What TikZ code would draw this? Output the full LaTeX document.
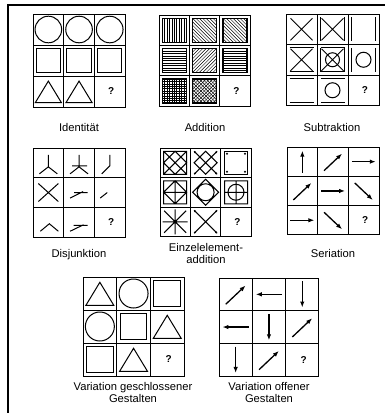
\documentclass[tikz,border=0pt]{standalone}
\usepackage{fontspec}
\setmainfont{Liberation Sans}
\usetikzlibrary{arrows.meta}

\begin{document}
\begin{tikzpicture}[x=1pt,y=-1pt,
  cell/.style={draw,line width=0.9pt,inner sep=0pt,outer sep=0pt},
  figline/.style={line width=1pt},
  hatch/.style={line width=0.45pt},
  frame/.style={line width=1.1pt},
  arrw/.style={line width=1.3pt,-{Latex[length=6pt,width=4.5pt]}},
  quest/.style={font=\fontsize{10}{11}\selectfont\bfseries,inner sep=0pt},
  caption/.style={font=\fontsize{11.2}{12}\selectfont,align=center,inner sep=0pt},
  ring/.pic={\draw[figline] (0,0) circle[radius=#1];},
  box/.pic={\draw[figline] (-#1,-#1) rectangle (#1,#1);},
  plate/.pic={\draw[line width=1.2pt] (-#1,-#1) rectangle (#1,#1);},
  tri/.pic={\draw[figline] (-#1,0.85*#1) -- (0,-0.8*#1) -- (#1,0.85*#1) -- cycle;},
  aup/.pic={\draw[arrw] (0,11) -- (0,-11);},
  adn/.pic={\draw[arrw] (0,-12) -- (0,12);},
  art/.pic={\draw[arrw] (-12,0) -- (12,0);},
  alf/.pic={\draw[arrw] (12,0) -- (-12,0);},
  ane/.pic={\draw[arrw] (-9,9) -- (9,-8);},
  ase/.pic={\draw[arrw] (-9,-8) -- (9,9);}
]
  \useasboundingbox (0,0) rectangle (385,413);
  \draw[frame] (8,413) -- (8,5) -- (385,5);

  % Matrices: name / left / top / cell width / cell height
  \foreach \g/\gx/\gy/\gw/\gh in {id/33/14/30.7/31, ad/159/15/30.4/30.4,
      sb/286/14/31/30.5, dj/33/148/30.7/29.7, ez/160/148/30.4/29.5,
      sr/287/147/30.7/29.3, vg/83/277/33.7/33, vo/219/278/33.3/32.7}{
    \foreach \r in {1,2,3}{
      \foreach \c in {1,2,3}{
        \node[cell,minimum width=\gw,minimum height=\gh] (\g\r\c)
          at ({\gx+(\c-0.5)*\gw},{\gy+(\r-0.5)*\gh}) {};
      }
    }
    \node[quest] (q\g) at ([xshift=1.5pt]\g33) {?};
  }

  % Identitaet
  \foreach \c in {11,12,13} \pic at (id\c) {ring=13.3};
  \foreach \c in {21,22,23} \pic at (id\c) {box=12.2};
  \foreach \c in {31,32} \pic at (id\c) {tri=13};
  \node[caption] (capid) at (79,127) {Identität};

  % Addition
  \begin{scope}[shift={(ad11)}]
    \clip (-12,-12) rectangle (12,12);
    \foreach \t in {-12,-9.6,...,12} \draw[hatch] (\t,-12) -- (\t,12);
  \end{scope}
  \foreach \c in {12,13}{
    \begin{scope}[shift={(ad\c)}]
      \clip (-12,-12) rectangle (12,12);
      \foreach \t in {-24,-20.6,...,24} \draw[hatch] (\t-12,-12) -- (\t+12,12);
    \end{scope}
  }
  \foreach \c in {21,23}{
    \begin{scope}[shift={(ad\c)}]
      \clip (-12,-12) rectangle (12,12);
      \foreach \t in {-12,-9.6,...,12} \draw[hatch] (-12,\t) -- (12,\t);
    \end{scope}
  }
  \begin{scope}[shift={(ad22)}]
    \clip (-12,-12) rectangle (12,12);
    \foreach \t in {-24,-20.6,...,24} \draw[hatch] (\t-12,12) -- (\t+12,-12);
  \end{scope}
  \begin{scope}[shift={(ad31)}]
    \clip (-12,-12) rectangle (12,12);
    \foreach \t in {-12,-9.6,...,12} \draw[hatch] (\t,-12) -- (\t,12) (-12,\t) -- (12,\t);
  \end{scope}
  \begin{scope}[shift={(ad32)}]
    \clip (-12,-12) rectangle (12,12);
    \foreach \t in {-24,-20.6,...,24}
      \draw[hatch] (\t-12,-12) -- (\t+12,12) (\t-12,12) -- (\t+12,-12);
  \end{scope}
  \foreach \c in {11,12,13,21,22,23,31,32} \pic at (ad\c) {plate=12};
  \node[caption] (capad) at (205,127) {Addition};

  % Subtraktion
  \foreach \c in {11,12,21,22}{
    \begin{scope}[shift={(sb\c)}]
      \draw[figline] (-11,-11) -- (11,11) (-11,11) -- (11,-11);
    \end{scope}
  }
  \foreach \c in {12,13,22,23}{
    \begin{scope}[shift={(sb\c)}]
      \draw[figline] (-12,-12) -- (-12,12) (12,-12) -- (12,12);
    \end{scope}
  }
  \foreach \c in {21,22,31,32}{
    \begin{scope}[shift={(sb\c)}]
      \draw[figline] (-12,-12) -- (12,-12) (-12,12) -- (12,12);
    \end{scope}
  }
  \pic at (sb22) {ring=7};
  \pic at (sb23) {ring=7.5};
  \pic at (sb32) {ring=7.5};
  \node[caption] (capsb) at (332,127) {Subtraktion};

  % Disjunktion
  \begin{scope}[shift={(dj11)}]
    \draw[figline] (0,-8) -- (0,4) (-9,11) -- (0,4) -- (9,11);
  \end{scope}
  \begin{scope}[shift={(dj12)}]
    \draw[figline] (0,-8) -- (0,4) (-9,11) -- (0,4) -- (9,11) (-7,3) -- (8,3);
  \end{scope}
  \begin{scope}[shift={(dj13)}]
    \draw[figline] (0,-8) -- (0,3) -- (-8,11);
  \end{scope}
  \begin{scope}[shift={(dj21)}]
    \draw[figline] (-10,-9) -- (10,9) (-10,9) -- (10,-9);
  \end{scope}
  \begin{scope}[shift={(dj22)}]
    \draw[figline] (-5,0) -- (8.5,0) (-9,5.5) -- (4,-1);
  \end{scope}
  \begin{scope}[shift={(dj23)}]
    \draw[figline] (-9.5,5.5) -- (-2.5,0);
  \end{scope}
  \begin{scope}[shift={(dj31)}]
    \draw[figline] (-8,9) -- (1,1.5) -- (10,9);
  \end{scope}
  \begin{scope}[shift={(dj32)}]
    \draw[figline] (-5.5,3) -- (8.5,3) (-9,9) -- (4.5,2.5);
  \end{scope}
  \node[caption] (capdj) at (79,255) {Disjunktion};

  % Einzelelementaddition
  \begin{scope}[shift={(ez11)}]
    \draw[figline] (-11.5,-11.5) rectangle (11.5,11.5)
      (-11.5,-11.5) -- (11.5,11.5) (-11.5,11.5) -- (11.5,-11.5)
      (-11.5,0) -- (0,-11.5) -- (11.5,0) -- (0,11.5) -- cycle;
  \end{scope}
  \begin{scope}[shift={(ez12)}]
    \draw[figline] (-11.5,-11.5) -- (11.5,11.5) (-11.5,11.5) -- (11.5,-11.5)
      (-11.5,0) -- (0,-11.5) -- (11.5,0) -- (0,11.5) -- cycle;
    \foreach \p in {(-10.5,-10.5),(10.5,-10.5),(-10.5,10.5),(10.5,10.5)}
      \fill \p circle[radius=1.1];
  \end{scope}
  \begin{scope}[shift={(ez13)}]
    \draw[figline] (-11.5,-11.5) rectangle (11.5,11.5);
    \foreach \p in {(-9,-9),(9,-9),(-9,9),(9,9)}
      \fill \p circle[radius=1.1];
  \end{scope}
  \begin{scope}[shift={(ez21)}]
    \draw[figline] (-11.5,-11.5) rectangle (11.5,11.5)
      (-11.5,0) -- (0,-11.5) -- (11.5,0) -- (0,11.5) -- cycle
      (-11.5,0) -- (11.5,0) (0,-11.5) -- (0,11.5);
  \end{scope}
  \begin{scope}[shift={(ez22)}]
    \draw[figline] (-13,0) -- (0,-13) -- (13,0) -- (0,13) -- cycle
      (0,0) circle[radius=8.5];
  \end{scope}
  \begin{scope}[shift={(ez23)}]
    \draw[figline] (-11.5,-11.5) rectangle (11.5,11.5)
      (0,0) circle[radius=8]
      (-11.5,0) -- (11.5,0) (0,-11.5) -- (0,11.5);
  \end{scope}
  \begin{scope}[shift={(ez31)}]
    \draw[figline] (-11,-11) -- (11,11) (-11,11) -- (11,-11)
      (-12.5,0) -- (12.5,0) (0,-12.5) -- (0,12.5);
    \fill (0,0) circle[radius=1.6];
  \end{scope}
  \begin{scope}[shift={(ez32)}]
    \draw[figline] (-11.5,-11.5) -- (11.5,11.5) (-11.5,11.5) -- (11.5,-11.5);
    \foreach \p in {(-10.5,-10.5),(10.5,-10.5),(-10.5,10.5),(10.5,10.5)}
      \fill \p circle[radius=1.1];
  \end{scope}
  \node[caption] (capez) at (206,253) {Einzelelement-\\addition};

  % Seriation
  \pic at (sr11) {aup};
  \pic at (sr12) {ane};
  \pic at (sr13) {art};
  \pic at (sr21) {ane};
  \pic at (sr22) {art};
  \pic at (sr23) {ase};
  \pic at (sr31) {art};
  \pic at (sr32) {ase};
  \node[caption] (capsr) at (333,253) {Seriation};

  % Variation geschlossener Gestalten
  \pic at (vg11) {tri=14};
  \pic at (vg12) {ring=14.5};
  \pic at (vg13) {box=13.3};
  \pic at (vg21) {ring=14.5};
  \pic at (vg22) {box=13.3};
  \pic at (vg23) {tri=14};
  \pic at (vg31) {box=13.3};
  \pic at (vg32) {tri=14};
  \node[caption] (capvg) at (133,392) {Variation geschlossener\\Gestalten};

  % Variation offener Gestalten
  \pic[scale=1.1] at (vo11) {ane};
  \pic[scale=1.1] at (vo12) {alf};
  \pic[scale=1.1] at (vo13) {adn};
  \pic[scale=1.1] at (vo21) {alf};
  \pic[scale=1.1] at (vo22) {adn};
  \pic[scale=1.1] at (vo23) {ane};
  \pic[scale=1.1] at (vo31) {adn};
  \pic[scale=1.1] at (vo32) {ane};
  \node[caption] (capvo) at (269,392) {Variation offener\\Gestalten};
\end{tikzpicture}
\end{document}
